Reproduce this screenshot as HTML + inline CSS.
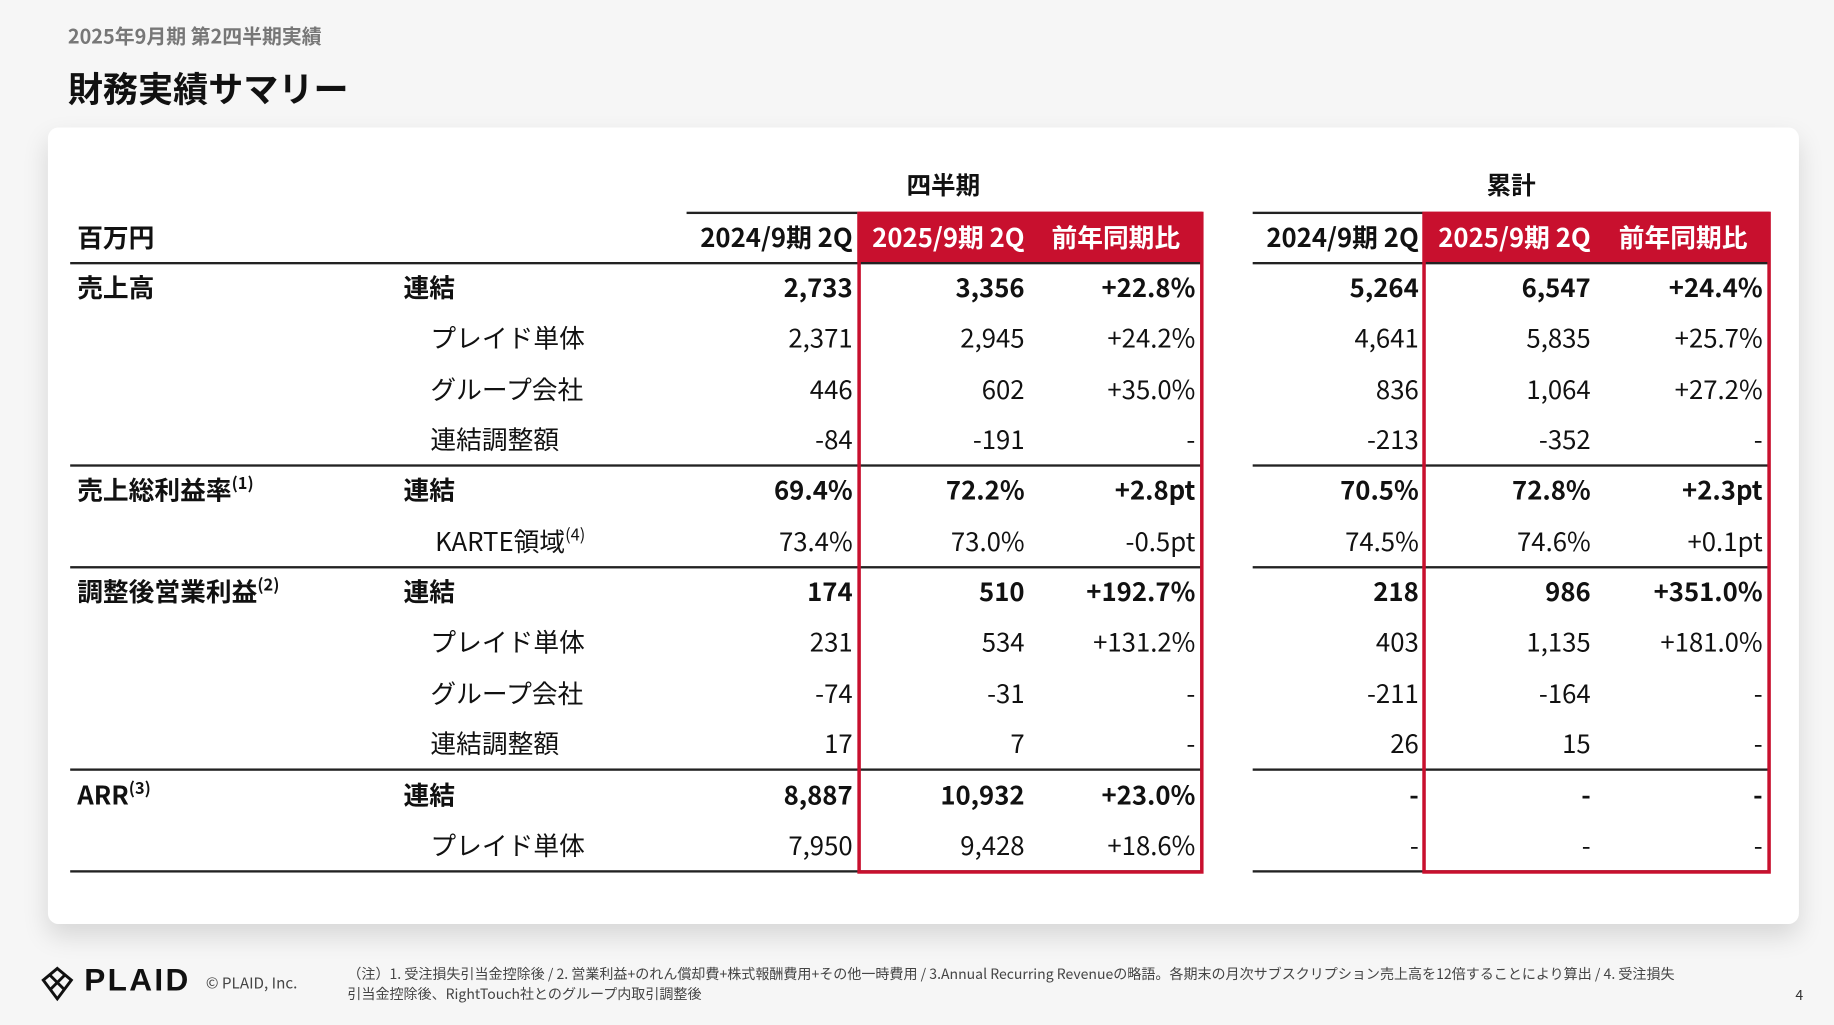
<!DOCTYPE html>
<html><head><meta charset="utf-8"><style>
*{margin:0;padding:0;box-sizing:border-box}
html,body{width:1834px;height:1025px;overflow:hidden;background:#f6f6f6}
#w{position:absolute;left:0;top:0;width:1568px;height:876px;transform:scale(1.16964);transform-origin:0 0;font-family:"Noto Sans CJK JP","Liberation Sans",sans-serif;color:#111}
.a{position:absolute;white-space:nowrap}
.card{position:absolute;left:41px;top:109px;width:1497px;height:681px;background:#fff;border-radius:9px;box-shadow:0 10px 22px rgba(0,0,0,.13)}
.r{position:absolute;height:43px;line-height:43px;font-size:22px;left:0;width:1568px}
.r span{position:absolute;white-space:nowrap}
.b{font-weight:700}
.v{text-align:right}
.hl{position:absolute;height:2px;background:#222}
sup{font-size:14px;line-height:0;vertical-align:0;position:relative;top:-9px}
</style></head><body><div id="w">
<div class="a" style="left:58px;top:17px;font-size:17px;font-weight:700;color:#777">2025年9月期 第2四半期実績</div>
<div class="a" style="left:58px;top:52px;font-size:30px;font-weight:700;color:#111">財務実績サマリー</div>
<div class="card"></div>

<div class="a" style="left:733px;width:147px;top:143px;font-size:21px;font-weight:700;text-align:center">四半期</div>
<div class="a" style="left:1217px;width:150px;top:143px;font-size:21px;font-weight:700;text-align:center">累計</div>

<div class="a" style="left:733px;top:181px;width:295px;height:44px;background:#c8102e"></div>
<div class="a" style="left:1217px;top:181px;width:296px;height:44px;background:#c8102e"></div>
<div class="hl" style="left:587px;top:181px;width:146px"></div>
<div class="hl" style="left:1071px;top:181px;width:146px"></div>

<div class="r b" style="top:181px">
<span style="left:66px">百万円</span>
<span class="v" style="right:839px">2024/9期 2Q</span>
<span class="v" style="right:692px;color:#fff">2025/9期 2Q</span>
<span class="v" style="right:559px;color:#fff">前年同期比</span>
<span class="v" style="right:355px">2024/9期 2Q</span>
<span class="v" style="right:208px;color:#fff">2025/9期 2Q</span>
<span class="v" style="right:74px;color:#fff">前年同期比</span>
</div>

<div class="hl" style="left:60px;top:224px;width:968px"></div>
<div class="hl" style="left:1071px;top:224px;width:442px"></div>
<div class="hl" style="left:60px;top:397px;width:968px"></div>
<div class="hl" style="left:1071px;top:397px;width:442px"></div>
<div class="hl" style="left:60px;top:484px;width:968px"></div>
<div class="hl" style="left:1071px;top:484px;width:442px"></div>
<div class="hl" style="left:60px;top:657px;width:968px"></div>
<div class="hl" style="left:1071px;top:657px;width:442px"></div>
<div class="hl" style="left:60px;top:744px;width:968px"></div>
<div class="hl" style="left:1071px;top:744px;width:442px"></div>

<div class="a" style="left:733px;top:181px;width:296px;height:566px;border:3px solid #c8102e"></div>
<div class="a" style="left:1216px;top:181px;width:298px;height:566px;border:3px solid #c8102e"></div>

<div class="r b" style="top:224px"><span style="left:66px">売上高</span><span style="left:345px">連結</span>
<span class="v" style="right:839px">2,733</span><span class="v" style="right:692px">3,356</span><span class="v" style="right:546px">+22.8%</span>
<span class="v" style="right:355px">5,264</span><span class="v" style="right:208px">6,547</span><span class="v" style="right:61px">+24.4%</span></div>
<div class="r" style="top:267px"><span style="left:368px">プレイド単体</span>
<span class="v" style="right:839px">2,371</span><span class="v" style="right:692px">2,945</span><span class="v" style="right:546px">+24.2%</span>
<span class="v" style="right:355px">4,641</span><span class="v" style="right:208px">5,835</span><span class="v" style="right:61px">+25.7%</span></div>
<div class="r" style="top:311px"><span style="left:368px">グループ会社</span>
<span class="v" style="right:839px">446</span><span class="v" style="right:692px">602</span><span class="v" style="right:546px">+35.0%</span>
<span class="v" style="right:355px">836</span><span class="v" style="right:208px">1,064</span><span class="v" style="right:61px">+27.2%</span></div>
<div class="r" style="top:354px"><span style="left:368px">連結調整額</span>
<span class="v" style="right:839px">-84</span><span class="v" style="right:692px">-191</span><span class="v" style="right:546px">-</span>
<span class="v" style="right:355px">-213</span><span class="v" style="right:208px">-352</span><span class="v" style="right:61px">-</span></div>

<div class="r b" style="top:397px"><span style="left:66px">売上総利益率<sup>(1)</sup></span><span style="left:345px">連結</span>
<span class="v" style="right:839px">69.4%</span><span class="v" style="right:692px">72.2%</span><span class="v" style="right:546px">+2.8pt</span>
<span class="v" style="right:355px">70.5%</span><span class="v" style="right:208px">72.8%</span><span class="v" style="right:61px">+2.3pt</span></div>
<div class="r" style="top:441px"><span style="left:372px">KARTE領域<sup>(4)</sup></span>
<span class="v" style="right:839px">73.4%</span><span class="v" style="right:692px">73.0%</span><span class="v" style="right:546px">-0.5pt</span>
<span class="v" style="right:355px">74.5%</span><span class="v" style="right:208px">74.6%</span><span class="v" style="right:61px">+0.1pt</span></div>

<div class="r b" style="top:484px"><span style="left:66px">調整後営業利益<sup>(2)</sup></span><span style="left:345px">連結</span>
<span class="v" style="right:839px">174</span><span class="v" style="right:692px">510</span><span class="v" style="right:546px">+192.7%</span>
<span class="v" style="right:355px">218</span><span class="v" style="right:208px">986</span><span class="v" style="right:61px">+351.0%</span></div>
<div class="r" style="top:527px"><span style="left:368px">プレイド単体</span>
<span class="v" style="right:839px">231</span><span class="v" style="right:692px">534</span><span class="v" style="right:546px">+131.2%</span>
<span class="v" style="right:355px">403</span><span class="v" style="right:208px">1,135</span><span class="v" style="right:61px">+181.0%</span></div>
<div class="r" style="top:571px"><span style="left:368px">グループ会社</span>
<span class="v" style="right:839px">-74</span><span class="v" style="right:692px">-31</span><span class="v" style="right:546px">-</span>
<span class="v" style="right:355px">-211</span><span class="v" style="right:208px">-164</span><span class="v" style="right:61px">-</span></div>
<div class="r" style="top:614px"><span style="left:368px">連結調整額</span>
<span class="v" style="right:839px">17</span><span class="v" style="right:692px">7</span><span class="v" style="right:546px">-</span>
<span class="v" style="right:355px">26</span><span class="v" style="right:208px">15</span><span class="v" style="right:61px">-</span></div>

<div class="r b" style="top:658px"><span style="left:66px">ARR<sup>(3)</sup></span><span style="left:345px">連結</span>
<span class="v" style="right:839px">8,887</span><span class="v" style="right:692px">10,932</span><span class="v" style="right:546px">+23.0%</span>
<span class="v" style="right:355px">-</span><span class="v" style="right:208px">-</span><span class="v" style="right:61px">-</span></div>
<div class="r" style="top:701px"><span style="left:368px">プレイド単体</span>
<span class="v" style="right:839px">7,950</span><span class="v" style="right:692px">9,428</span><span class="v" style="right:546px">+18.6%</span>
<span class="v" style="right:355px">-</span><span class="v" style="right:208px">-</span><span class="v" style="right:61px">-</span></div>

<svg class="a" style="left:35px;top:826px" width="28" height="30" viewBox="0 0 28 30"><g fill="none" stroke="#111" stroke-width="2.5"><path d="M14 2 L26 12 L14 28 L2 12 Z"/><path d="M8 8 L20 20 M20 8 L8 20"/></g></svg>
<div class="a" style="left:72px;top:823px;font-size:27px;font-weight:900;letter-spacing:2px;color:#111;font-family:'Liberation Sans',sans-serif">PLAID</div>
<div class="a" style="left:176px;top:830px;font-size:13px;color:#444">© PLAID, Inc.</div>
<div class="a" style="left:297px;top:824px;font-size:12px;line-height:17px;color:#444;white-space:normal;width:1200px">（注）1. 受注損失引当金控除後 / 2. 営業利益+のれん償却費+株式報酬費用+その他一時費用 / 3.Annual Recurring Revenueの略語。各期末の月次サブスクリプション売上高を12倍することにより算出 / 4. 受注損失<br>引当金控除後、RightTouch社とのグループ内取引調整後</div>
<div class="a" style="left:1535px;top:842px;font-size:12px;color:#333">4</div>
</div></body></html>
